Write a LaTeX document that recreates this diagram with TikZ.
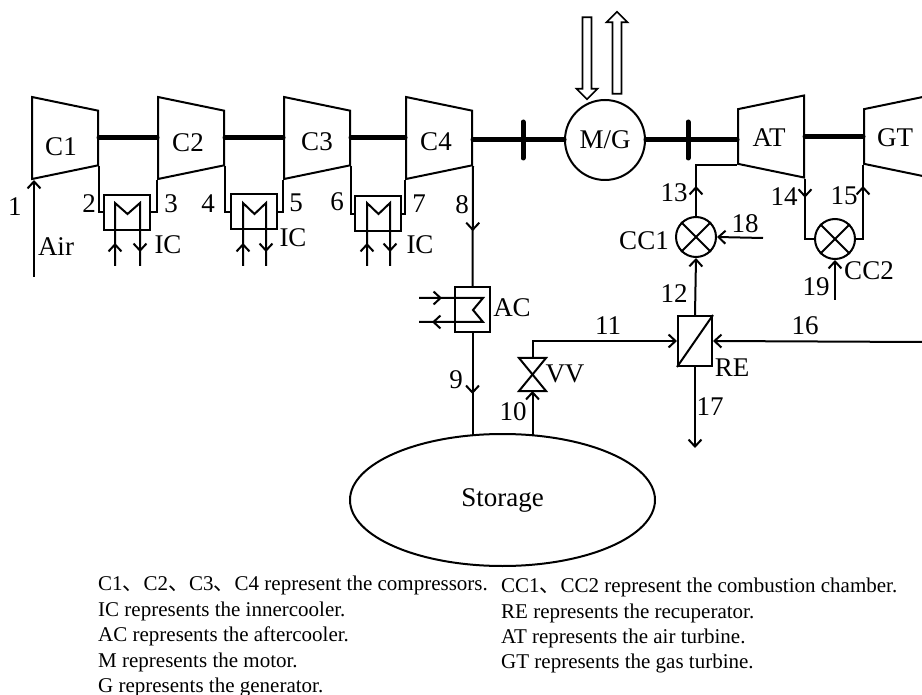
\documentclass[tikz,border=0pt]{standalone}
\usepackage{fontspec}
\setmainfont{Liberation Serif}
\newfontfamily\cjk{Noto Sans CJK SC}
\usepackage{tikz}
\usetikzlibrary{
  shapes.geometric, shapes.arrows, arrows.meta, decorations.markings
}
\tikzset{
	>={Straight Barb[length=7pt,width=13pt]},
	flow/.style={
			line width=2pt,
			line join=miter
		},
	midarrow/.style={
			postaction={decorate,decoration={markings,mark=at position #1 with {\arrow{>}}}}
		},
	shaft/.style={
			line width=5pt,
			line cap=round
		},
	compressor/.style={
			trapezium,
			draw=black,
			line width=2pt,
			shape border rotate=270,
			trapezium stretches=true,
			trapezium angle=76,
			minimum width=82pt,
			minimum height=66pt,
			inner sep=2pt
		},
	turbine/.style={
			compressor,
			shape border rotate=90
		},
	boxnode/.style={
			rectangle,
			draw=black,
			line width=2pt,
			inner sep=0pt
		},
	coolerbox/.style={
			boxnode,
			minimum width=46pt,
			minimum height=35pt
		},
	roundnode/.style={
			circle,
			draw=black,
			line width=2pt,
			inner sep=0pt,
			font=\fontsize{27}{27}\selectfont
		},
	chamber/.style={
			roundnode,
			minimum size=40pt
		},
	poweredge/.style={
			single arrow,
			draw=black,
			line width=1.7pt,
			minimum height=82pt,
			minimum width=20pt,
			inner sep=3.6pt,
			single arrow head extend=6pt,
			single arrow head indent=0pt
		},
	tagnode/.style={
			inner sep=0pt,
			font=\fontsize{27}{27}\selectfont
		},
	legendnode/.style={
			inner sep=0pt,
			anchor=base west,
			font=\fontsize{21}{21}\selectfont
		}
}
\begin{document}
\begin{tikzpicture}[x=1pt, y=-1pt]
\clip (0,0) rectangle (922,695);

\node[compressor] (c1) at (65,138) {};
\node[compressor] (c2) at (191,138) {};
\node[compressor] (c3) at (317,138) {};
\node[compressor] (c4) at (439,138) {};
\node[turbine] (at) at (771,136.5) {};
\node[turbine] (gt) at (897,136.5) {};
\node[roundnode, minimum size=80pt] (mg) at (605,140) {M/G};
\node[poweredge, rotate=-90] (powerin) at (587,56) {};
\node[poweredge, rotate=90] (powerout) at (617,55) {};

\node[coolerbox] (ic1) at (127,212.5) {};
\node[coolerbox] (ic2) at (254,212) {};
\node[coolerbox] (ic3) at (378,214) {};
\node[boxnode, minimum width=35pt, minimum height=45pt] (ac) at (472.5,309.5) {};
\node[boxnode, minimum width=34pt, minimum height=50pt] (re) at (695,341) {};
\node[chamber] (cc1) at (696,237) {};
\node[chamber] (cc2) at (835,239) {};
\node[ellipse, draw=black, line width=2pt, inner sep=0pt, minimum width=305pt, minimum height=132pt, font=\fontsize{27}{27}\selectfont] (storage) at (502.5,500) {Storage};

\coordinate (air) at (34,277);
\coordinate (airin) at (34,180);
\coordinate (tank9) at (472.5,435.5);
\coordinate (tank10) at (532.5,435.5);
\coordinate (vvtop) at (532.5,358);
\coordinate (vvbot) at (532.5,391);
\coordinate (fuel18) at (763,238);
\coordinate (fuel19) at (835,300);
\coordinate (gas16) at (922,342);
\coordinate (out17) at (695,448);
\coordinate (tick1a) at (523,122);
\coordinate (tick1b) at (523,158);
\coordinate (tick2a) at (688,122);
\coordinate (tick2b) at (688,158);

\draw[shaft] (c1.top side) -- (c2.bottom side);
\draw[shaft] (c2.top side) -- (c3.bottom side);
\draw[shaft] (c3.top side) -- (c4.bottom side);
\draw[shaft] (c4.top side |- mg.west) -- (mg.west);
\draw[shaft] (mg.east) -- (at.top side |- mg.east);
\draw[shaft] (at.bottom side) -- (gt.top side);
\draw[shaft] (tick1a) -- (tick1b);
\draw[shaft] (tick2a) -- (tick2b);

\draw[flow, ->] (air) -- (airin);
\draw[flow] (c1.top right corner) |- (ic1.west);
\draw[flow] (c2.bottom right corner) |- (ic1.east);
\draw[flow] (c2.top right corner) |- (ic2.west);
\draw[flow] (c3.bottom right corner) |- (ic2.east);
\draw[flow] (c3.top right corner) |- (ic3.west);
\draw[flow] (c4.bottom right corner) |- (ic3.east);

\draw[flow, midarrow=23pt, midarrow=-14pt] (115,266) -- (115,203) -- (127.5,214) -- (140,203) -- (140,266);
\draw[flow, midarrow=23pt, midarrow=-14pt] (243,266) -- (243,203) -- (254.5,214) -- (266,203) -- (266,266);
\draw[flow, midarrow=23pt, midarrow=-14pt] (367,266) -- (367,203) -- (378.5,214) -- (390,203) -- (390,266);

\draw[flow, midarrow=65pt] (c4.top right corner) -- (ac.north);
\draw[flow, midarrow=23pt, midarrow=-13pt] (419,298) -- (483,298) -- (473,310) -- (483,322) -- (419,322);
\draw[flow, midarrow=61pt] (ac.south) -- (tank9);
\draw[flow, ->] (tank10) -- (vvbot);
\draw[flow] (519,358) -- (546,358) -- (519,391) -- (546,391) -- cycle;
\draw[flow, ->] (vvtop) |- (re.west);
\draw[flow, ->] (gas16) -- (re.east);
\draw[flow, ->] (re.south) -- (out17);
\draw[flow] (re.south west) -- (re.north east);
\draw[flow, ->] (re.north) -- (cc1.south);
\draw[flow, ->] (fuel18) -- (cc1.east);
\draw[flow] (cc1.45) -- (cc1.225);
\draw[flow] (cc1.135) -- (cc1.315);
\draw[flow, midarrow=30pt] (cc1.north) |- (at.top left corner);
\draw[flow, midarrow=19pt] (at.bottom left corner) |- (cc2.west);
\draw[flow, midarrow=60pt] (cc2.east) -| (gt.top left corner);
\draw[flow, ->] (fuel19) -- (cc2.south);
\draw[flow] (cc2.45) -- (cc2.225);
\draw[flow] (cc2.135) -- (cc2.315);

\node[tagnode] (c1text) at (61,147) {C1};
\node[tagnode] (c2text) at (188,143) {C2};
\node[tagnode] (c3text) at (317,142) {C3};
\node[tagnode] (c4text) at (436,142) {C4};
\node[tagnode] (attext) at (769,138) {AT};
\node[tagnode] (gttext) at (895,138) {GT};
\node[tagnode] (airtext) at (56,247) {Air};
\node[tagnode] (ic1text) at (168,245) {IC};
\node[tagnode] (ic2text) at (293,238) {IC};
\node[tagnode] (ic3text) at (420,245) {IC};
\node[tagnode] (actext) at (512,308) {AC};
\node[tagnode] (retext) at (732,368) {RE};
\node[tagnode] (vvtext) at (565,374) {VV};
\node[tagnode] (cc1text) at (644,241) {CC1};
\node[tagnode] (cc2text) at (869,271) {CC2};

\node[tagnode] (n1) at (15,207) {1};
\node[tagnode] (n2) at (89,204) {2};
\node[tagnode] (n3) at (171,204) {3};
\node[tagnode] (n4) at (208,204) {4};
\node[tagnode] (n5) at (296,203) {5};
\node[tagnode] (n6) at (337,202) {6};
\node[tagnode] (n7) at (419,204) {7};
\node[tagnode] (n8) at (462,205) {8};
\node[tagnode] (n9) at (456,380) {9};
\node[tagnode] (n10) at (513,412) {10};
\node[tagnode] (n11) at (608,326) {11};
\node[tagnode] (n12) at (674,294) {12};
\node[tagnode] (n13) at (674,193) {13};
\node[tagnode] (n14) at (784,197) {14};
\node[tagnode] (n15) at (844,196) {15};
\node[tagnode] (n16) at (805,326) {16};
\node[tagnode] (n17) at (710,407) {17};
\node[tagnode] (n18) at (745,224) {18};
\node[tagnode] (n19) at (816,287) {19};

\node[legendnode] (legend1) at (98,590) {C1{\cjk 、}C2{\cjk 、}C3{\cjk 、}C4 represent the compressors.};
\node[legendnode] (legend2) at (98,616) {IC represents the innercooler.};
\node[legendnode] (legend3) at (98,641) {AC represents the aftercooler.};
\node[legendnode] (legend4) at (98,667) {M represents the motor.};
\node[legendnode] (legend5) at (98,692) {G represents the generator.};
\node[legendnode] (legend6) at (501,592) {CC1{\cjk 、}CC2 represent the combustion chamber.};
\node[legendnode] (legend7) at (501,618) {RE represents the recuperator.};
\node[legendnode] (legend8) at (501,643) {AT represents the air turbine.};
\node[legendnode] (legend9) at (501,668) {GT represents the gas turbine.};

\end{tikzpicture}
\end{document}
